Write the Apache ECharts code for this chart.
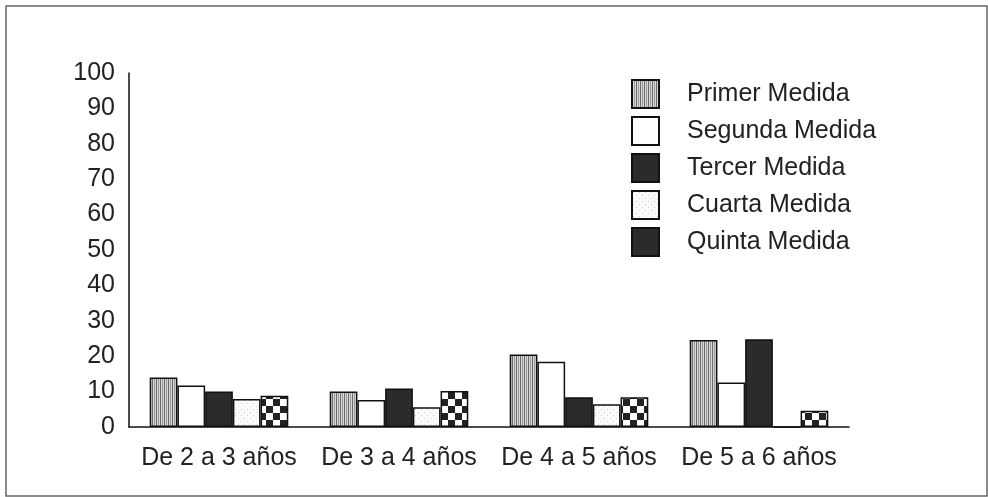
<!DOCTYPE html>
<html>
<head>
<meta charset="utf-8">
<script src="https://cdn.jsdelivr.net/npm/echarts@6/dist/echarts.min.js"></script>
<style>
  html, body { margin: 0; padding: 0; background: #fff; }
  #chart { width: 988px; height: 497px; }
</style>
</head>
<body>
<div id="chart"></div>
<script>
const categories = ['De 2 a 3 años', 'De 3 a 4 años', 'De 4 a 5 años', 'De 5 a 6 años'];
const seriesNames = ['Primer Medida', 'Segunda Medida', 'Tercer Medida', 'Cuarta Medida', 'Quinta Medida'];
const primer = [14, 10, 20.5, 24.6];
const segunda = [11.7, 7.6, 18.4, 12.6];
const tercer = [10, 10.9, 8.4, 24.8];
const cuarta = [7.9, 5.6, 6.4, 0];
const quinta = [8.8, 10.2, 8.4, 4.6];
const yTicks = [0, 100, 10];

const FONT = '"Liberation Sans", Arial, sans-serif';

// small canvas tiles used as fill patterns
function tile(w, h, draw) {
    const c = document.createElement('canvas');
    c.width = w;
    c.height = h;
    draw(c.getContext('2d'));
    return c;
}

const stripes = tile(4, 4, (ctx) => {
    ctx.fillStyle = '#d8d8d8';
    ctx.fillRect(0, 0, 4, 4);
    ctx.fillStyle = '#6a6a6a';
    ctx.fillRect(0, 0, 1, 4);
    ctx.fillStyle = '#9a9a9a';
    ctx.fillRect(2, 0, 1, 4);
});

const dots = tile(6, 6, (ctx) => {
    ctx.fillStyle = '#fbfbfb';
    ctx.fillRect(0, 0, 6, 6);
    ctx.fillStyle = '#cfcfcf';
    ctx.fillRect(1, 1, 1, 1);
    ctx.fillRect(4, 4, 1, 1);
});

const checks = tile(14, 14, (ctx) => {
    ctx.fillStyle = '#fff';
    ctx.fillRect(0, 0, 14, 14);
    ctx.fillStyle = '#222';
    ctx.fillRect(0, 0, 7, 7);
    ctx.fillRect(7, 7, 7, 7);
});

const fills = [
    {image: stripes, repeat: 'repeat'},
    '#ffffff',
    '#2b2b2b',
    {image: dots, repeat: 'repeat'},
    {image: checks, repeat: 'repeat'},
];
const values = [primer, segunda, tercer, cuarta, quinta];

const chart = echarts.init(document.getElementById('chart'));

chart.setOption({
    backgroundColor: '#fff',
    animation: false,
    graphic: [
        {
            type: 'rect',
            shape: {x: 6, y: 6, width: 981, height: 490},
            style: {fill: 'none', stroke: '#666', lineWidth: 1.5},
            silent: true,
        },
    ],
    grid: {left: 129, right: 139, top: 73, bottom: 70},
    legend: {
        orient: 'vertical',
        left: 631,
        top: 79,
        padding: 0,
        icon: 'rect',
        itemWidth: 27,
        itemHeight: 28,
        itemGap: 7,
        textStyle: {fontFamily: FONT, fontSize: 25, lineHeight: 28, color: '#222', padding: [0, 0, 0, 23]},
        data: seriesNames.map((name, i) => i === 4
            ? {name: name, itemStyle: {color: '#2b2b2b'}}
            : {name: name}),
    },
    xAxis: {
        type: 'category',
        data: categories,
        axisLine: {lineStyle: {color: '#111', width: 1.5}},
        axisTick: {show: false},
        axisLabel: {interval: 0, fontFamily: FONT, fontSize: 25, color: '#222', margin: 19},
    },
    yAxis: {
        type: 'value',
        min: yTicks[0],
        max: yTicks[1],
        interval: yTicks[2],
        axisLine: {show: true, lineStyle: {color: '#111', width: 1.5}},
        axisTick: {show: false},
        splitLine: {show: false},
        axisLabel: {fontFamily: FONT, fontSize: 25, color: '#222', margin: 14},
    },
    series: seriesNames.map((name, i) => ({
        name: name,
        type: 'bar',
        data: values[i],
        barGap: '0%',
        barCategoryGap: '23%',
        itemStyle: {color: fills[i], borderColor: '#111', borderWidth: 1.5},
    })),
});
</script>
</body>
</html>
